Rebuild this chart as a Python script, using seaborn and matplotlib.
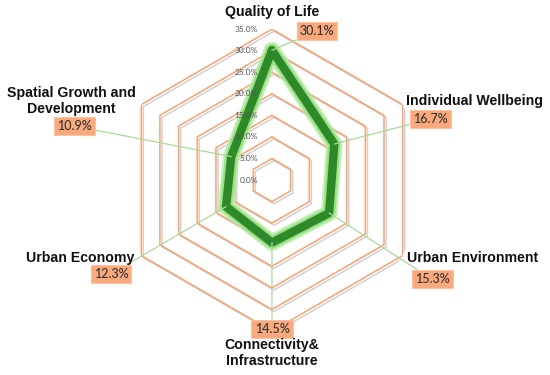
import numpy as np
import pandas as pd
import matplotlib
matplotlib.use('Agg')
import matplotlib.pyplot as plt
import matplotlib.patheffects as pe
from matplotlib.transforms import offset_copy
import seaborn as sns

# chart data
categories = ['Quality of Life', 'Individual Wellbeing', 'Urban Environment',
              'Connectivity&\nInfrastructure', 'Urban Economy',
              'Spatial Growth and\nDevelopment']
values = [30.1, 16.7, 15.3, 14.5, 12.3, 10.9]
value_labels = ['30.1%', '16.7%', '15.3%', '14.5%', '12.3%', '10.9%']
ring_levels = [5, 10, 15, 20, 25, 30, 35]
tick_labels = ['0.0%', '5.0%', '10.0%', '15.0%', '20.0%', '25.0%', '30.0%', '35.0%']

sns.set_theme(style='white')
plt.rcParams['font.family'] = ['Liberation Sans', 'DejaVu Sans']

fig = plt.figure(figsize=(5.5, 3.75), dpi=100)
ax = fig.add_axes([0.22, 0.1173, 0.549, 0.805], projection='polar')
ax.set_theta_zero_location('N')
ax.set_theta_direction(-1)

n = len(categories)
theta = np.linspace(0, 2 * np.pi, n + 1)

# hexagonal grid rings with a soft shadow
shadow = [pe.SimpleLineShadow(offset=(1.5, -1.5), shadow_color='#8c8c8c', alpha=0.4),
          pe.Normal()]
for lvl in ring_levels:
    ax.plot(theta, [lvl] * (n + 1), color='#f8a272', lw=1.1, path_effects=shadow, zorder=1)

# data line
df = pd.DataFrame({'theta': theta, 'value': values + values[:1]})
glow = [pe.Stroke(linewidth=12, foreground='#b5eba2', alpha=0.75),
        pe.Stroke(linewidth=9, foreground='#8fdc78', alpha=0.8), pe.Normal()]
sns.lineplot(data=df, x='theta', y='value', ax=ax, color='#2e8a28', lw=6,
             sort=False, path_effects=glow, zorder=3)

ax.set_ylim(0, 35)
ax.grid(False)
ax.spines['polar'].set_visible(False)
ax.set_xticklabels([])
ax.set_yticklabels([])
ax.set_xlabel('')
ax.set_ylabel('')

# radial tick labels just left of the top axis
tr = offset_copy(ax.transData, fig=fig, x=-10, y=0, units='points')
for lvl, lab in zip([0] + ring_levels, tick_labels):
    ax.text(0, lvl, lab, transform=tr, ha='right', va='center',
            fontsize=6, color='#555555', family=['Lato', 'DejaVu Sans'], zorder=4)

# value labels (figure pixels) with leader lines, and category names
label_pos = [(317, 344), (430, 256), (432, 96), (272, 46), (111, 101), (74, 249)]
name_pos = [(272, 363), (475, 274), (473, 117), (272, 22), (80, 117), (71, 274)]
for th, v, vl, lp, cat, npos in zip(theta[:-1], values, value_labels, label_pos,
                                     categories, name_pos):
    ax.annotate(vl, xy=(th, v), xytext=lp, textcoords='figure pixels',
                ha='center', va='center', fontsize=9, color='#333333',
                family=['Lato', 'DejaVu Sans'], fontweight='medium',
                bbox=dict(boxstyle='square,pad=0.25', fc='#f9a97c', ec='#fbc3a2', lw=0.8),
                arrowprops=dict(arrowstyle='-', color='#a9d99a', lw=0.9,
                                shrinkA=0, shrinkB=0),
                zorder=5, annotation_clip=False)
    fig.text(npos[0] / 550, npos[1] / 375, cat, ha='center', va='center',
             fontsize=10.2, fontweight='bold', color='#111111', linespacing=1.1)

fig.savefig('out.png', dpi=100)
